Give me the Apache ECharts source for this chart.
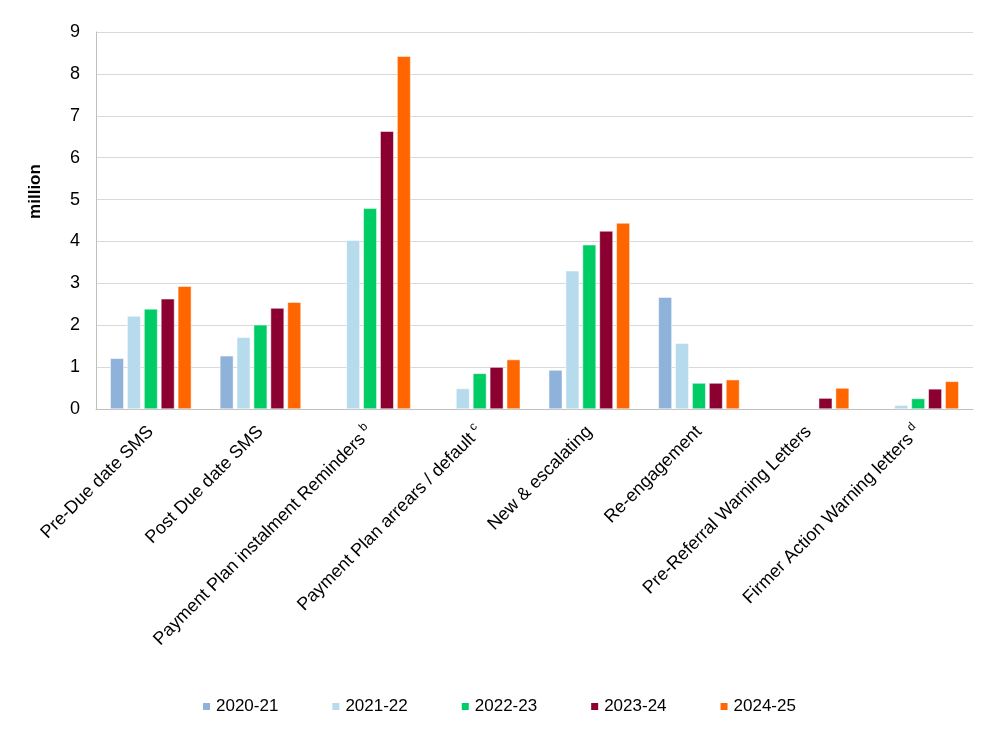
<!DOCTYPE html>
<html>
<head>
<meta charset="utf-8">
<script src="https://cdn.jsdelivr.net/npm/echarts@6/dist/echarts.min.js"></script>
<style>
html, body { margin: 0; padding: 0; background: #fff; }
#main { width: 998px; height: 735px; }
</style>
</head>
<body>
<div id="main"></div>
<script>
// categories (label, superscript)
var categories = ['Pre-Due date SMS', 'Post Due date SMS', 'Payment Plan instalment Reminders', 'Payment Plan arrears / default', 'New & escalating', 'Re-engagement', 'Pre-Referral Warning Letters', 'Firmer Action Warning letters'];
var superscripts = ['', '', 'b', 'c', '', '', '', 'd'];

var years = ['2020-21', '2021-22', '2022-23', '2023-24', '2024-25'];
var colors = ['#8fb2da', '#b6dbec', '#00cc66', '#8b0030', '#ff6600'];

// values in million
var v2020 = [1.21, 1.27, null, null, 0.93, 2.67, null, null];
var v2021 = [2.22, 1.71, 4.03, 0.49, 3.30, 1.57, null, 0.09];
var v2022 = [2.39, 2.01, 4.79, 0.85, 3.92, 0.62, null, 0.25];
var v2023 = [2.63, 2.41, 6.63, 1.00, 4.25, 0.62, 0.26, 0.48];
var v2024 = [2.93, 2.55, 8.42, 1.18, 4.44, 0.70, 0.50, 0.66];
var allValues = [v2020, v2021, v2022, v2023, v2024];

var yTicks = [0, 1, 2, 3, 4, 5, 6, 7, 8, 9];

var chart = echarts.init(document.getElementById('main'));

var series = [];
for (var i = 0; i < years.length; i++) {
	series.push({
		name: years[i],
		type: 'bar',
		data: allValues[i],
		barGap: '25%',
		barCategoryGap: '26%',
		itemStyle: { color: colors[i], borderColor: '#ffffff', borderWidth: 0.5 }
	});
}

var option = {
	animation: false,
	textStyle: { fontFamily: 'Liberation Sans, Arial, sans-serif' },
	grid: { left: 96, right: 25, top: 32, bottom: 326, outerBoundsMode: 'none', containLabel: false },
	legend: {
		data: years,
		bottom: 15,
		left: 196,
		itemWidth: 9,
		itemHeight: 9,
		itemGap: 52,
		icon: 'rect',
		textStyle: { fontSize: 17, color: '#000', fontFamily: 'Liberation Sans, Arial, sans-serif' }
	},
	xAxis: {
		type: 'category',
		data: categories,
		axisLine: { lineStyle: { color: '#bfbfbf', width: 1 } },
		axisTick: { show: false },
		axisLabel: {
			rotate: 45,
			interval: 0,
			margin: 20,
			color: '#000',
			fontSize: 18,
			formatter: function (val, idx) {
				var s = superscripts[idx];
				return s ? '{a|' + val + '}{s|' + s + '}' : '{a|' + val + '}';
			},
			rich: {
				a: { fontSize: 18, color: '#000', fontFamily: 'Liberation Sans, Arial, sans-serif' },
				s: { fontSize: 12, color: '#000', padding: [0, 0, 12, 4], fontFamily: 'Liberation Sans, Arial, sans-serif' }
			}
		}
	},
	yAxis: {
		type: 'value',
		min: yTicks[0],
		max: yTicks[yTicks.length - 1],
		interval: 1,
		name: 'million',
		nameLocation: 'middle',
		nameRotate: 90,
		nameGap: 52,
		nameTextStyle: { fontSize: 17, fontWeight: 'bold', color: '#000', padding: [0, 0, 0, 58] },
		axisLine: { show: true, lineStyle: { color: '#bfbfbf' } },
		axisTick: { show: false },
		axisLabel: { color: '#000', fontSize: 18, margin: 16 },
		splitLine: { lineStyle: { color: '#d9d9d9', width: 1 } }
	},
	series: series
};

chart.setOption(option);
</script>
</body>
</html>
